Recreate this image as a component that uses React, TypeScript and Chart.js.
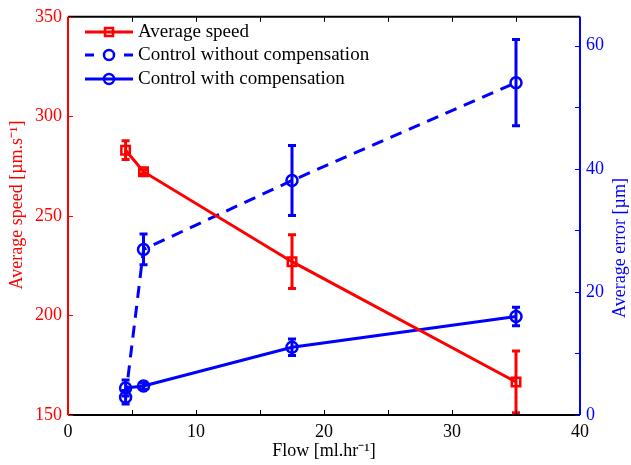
import React, { useEffect, useRef } from "react";
import { Chart, registerables } from "chart.js";

Chart.register(...registerables);

// ---- data ----
const flow = [4.5, 5.9, 17.5, 35];
const avgSpeed = [283, 272.2, 227, 166.6];
const avgSpeedErr = [4.7, 1, 13.5, 15.5];
const errWithout = [2.9, 26.9, 38.1, 54];
const errWithoutErr = [1.1, 2.5, 5.7, 7];
const errWith = [4.4, 4.7, 11, 16];
const errWithErr = [1.3, 0.5, 1.35, 1.5];
const legendLabels = ["Average speed", "Control without compensation", "Control with compensation"];
const xTickValues = [0, 5, 10, 15, 20, 25, 30, 35, 40];
const leftTickValues = [150, 200, 250, 300, 350];
const rightTickValues = [0, 10, 20, 30, 40, 50, 60];
const leftTitle = "Average speed [µm.s⁻¹]";
const rightTitle = "Average error [µm]";
const xTitle = "Flow [ml.hr⁻¹]";

const RED = "#ff0000";
const BLUE = "#0000ff";
const FONT = "'Liberation Serif', 'Times New Roman', serif";

const errorSets = [avgSpeedErr, errWithoutErr, errWithErr];

const customPlugin = {
  id: "custom",
  afterDatasetsDraw(chart: any) {
    const ctx = chart.ctx;
    const a = chart.chartArea;
    ctx.save();
    ctx.beginPath();
    ctx.rect(a.left, a.top, a.right - a.left, a.bottom - a.top);
    ctx.clip();
    chart.data.datasets.forEach((ds: any, i: number) => {
      const ys = chart.scales[ds.yAxisID];
      const xs = chart.scales.x;
      const errs = errorSets[i];
      ctx.strokeStyle = ds.borderColor;
      ctx.lineWidth = 3;
      ctx.setLineDash([]);
      ds.data.forEach((p: any, j: number) => {
        const e = errs[j];
        const px = xs.getPixelForValue(p.x);
        const top = ys.getPixelForValue(p.y + e);
        const bot = ys.getPixelForValue(p.y - e);
        ctx.beginPath();
        ctx.moveTo(px, top);
        ctx.lineTo(px, bot);
        ctx.moveTo(px - 4, top);
        ctx.lineTo(px + 4, top);
        ctx.moveTo(px - 4, bot);
        ctx.lineTo(px + 4, bot);
        ctx.stroke();
      });
    });
    ctx.restore();
  },
  afterDraw(chart: any) {
    const ctx = chart.ctx;
    const a = chart.chartArea;
    const xs = chart.scales.x;
    const yl = chart.scales.yL;
    const yr = chart.scales.yR;
    ctx.save();
    ctx.setLineDash([]);
    ctx.lineWidth = 2;
    // box
    ctx.strokeStyle = "#000";
    ctx.beginPath();
    ctx.moveTo(a.left, a.top);
    ctx.lineTo(a.right, a.top);
    ctx.moveTo(a.left, a.bottom);
    ctx.lineTo(a.right, a.bottom);
    ctx.stroke();
    ctx.lineWidth = 1;
    xTickValues.forEach((v) => {
      const px = Math.round(xs.getPixelForValue(v)) + 0.5;
      ctx.beginPath();
      ctx.moveTo(px, a.bottom);
      ctx.lineTo(px, a.bottom - 5);
      ctx.moveTo(px, a.top);
      ctx.lineTo(px, a.top + 5);
      ctx.stroke();
    });
    ctx.strokeStyle = RED;
    ctx.lineWidth = 2;
    ctx.beginPath();
    ctx.moveTo(a.left, a.top);
    ctx.lineTo(a.left, a.bottom);
    ctx.stroke();
    ctx.lineWidth = 1;
    leftTickValues.forEach((v) => {
      const py = Math.round(yl.getPixelForValue(v)) + 0.5;
      ctx.beginPath();
      ctx.moveTo(a.left, py);
      ctx.lineTo(a.left + 5, py);
      ctx.stroke();
    });
    ctx.strokeStyle = BLUE;
    ctx.lineWidth = 2;
    ctx.beginPath();
    ctx.moveTo(a.right, a.top);
    ctx.lineTo(a.right, a.bottom);
    ctx.stroke();
    ctx.lineWidth = 1;
    rightTickValues.forEach((v) => {
      const py = Math.round(yr.getPixelForValue(v)) + 0.5;
      ctx.beginPath();
      ctx.moveTo(a.right, py);
      ctx.lineTo(a.right - 5, py);
      ctx.stroke();
    });

    // y-axis titles (both read bottom-to-top)
    ctx.font = `18px ${FONT}`;
    ctx.textAlign = "center";
    ctx.textBaseline = "middle";
    ctx.fillStyle = RED;
    ctx.save();
    ctx.translate(17, 205);
    ctx.rotate(-Math.PI / 2);
    ctx.fillText(leftTitle, 0, 0);
    ctx.restore();
    ctx.fillStyle = BLUE;
    ctx.save();
    ctx.translate(620, 248);
    ctx.rotate(-Math.PI / 2);
    ctx.fillText(rightTitle, 0, 0);
    ctx.restore();

    // legend
    const rows = [32, 55, 79];
    const x0 = 85;
    const x1 = 133;
    const xm = (x0 + x1) / 2;
    chart.data.datasets.forEach((ds: any, i: number) => {
      const y = rows[i];
      ctx.strokeStyle = ds.borderColor;
      ctx.lineWidth = 3;
      ctx.setLineDash(i === 1 ? [9, 30] : []);
      ctx.beginPath();
      ctx.moveTo(x0, y);
      ctx.lineTo(x1, y);
      ctx.stroke();
      ctx.setLineDash([]);
      ctx.lineWidth = 2.5;
      ctx.beginPath();
      if (i === 0) {
        ctx.rect(xm - 4, y - 4, 8, 8);
      } else {
        ctx.arc(xm, y, 5, 0, Math.PI * 2);
      }
      ctx.stroke();
      ctx.fillStyle = "#000";
      ctx.font = `19px ${FONT}`;
      ctx.textAlign = "left";
      ctx.textBaseline = "middle";
      ctx.fillText(legendLabels[i], 138, y);
    });
    ctx.restore();
  },
};

export default function App() {
  const ref = useRef<HTMLCanvasElement | null>(null);
  useEffect(() => {
    document.body.style.margin = "0";
    const canvas = ref.current;
    if (!canvas) return;
    const mk = (ys: number[]) => flow.map((x, i) => ({ x, y: ys[i] }));
    const chart = new Chart(canvas, {
      type: "line",
      data: {
        datasets: [
          {
            label: legendLabels[0],
            data: mk(avgSpeed),
            yAxisID: "yL",
            borderColor: RED,
            backgroundColor: "rgba(0,0,0,0)",
            borderWidth: 3,
            pointStyle: "rect",
            pointRadius: 6,
            pointBorderWidth: 2.5,
            pointBackgroundColor: "rgba(0,0,0,0)",
            pointBorderColor: RED,
          },
          {
            label: legendLabels[1],
            data: mk(errWithout),
            yAxisID: "yR",
            borderColor: BLUE,
            backgroundColor: "rgba(0,0,0,0)",
            borderWidth: 3,
            borderDash: [12, 8],
            pointStyle: "circle",
            pointRadius: 5.5,
            pointBorderWidth: 2.5,
            pointBackgroundColor: "rgba(0,0,0,0)",
            pointBorderColor: BLUE,
          },
          {
            label: legendLabels[2],
            data: mk(errWith),
            yAxisID: "yR",
            borderColor: BLUE,
            backgroundColor: "rgba(0,0,0,0)",
            borderWidth: 3,
            pointStyle: "circle",
            pointRadius: 5.5,
            pointBorderWidth: 2.5,
            pointBackgroundColor: "rgba(0,0,0,0)",
            pointBorderColor: BLUE,
          },
        ],
      },
      options: {
        animation: false,
        responsive: false,
        devicePixelRatio: 1,
        layout: { padding: { top: 14, left: 0, right: 0, bottom: 0 } },
        plugins: { legend: { display: false }, tooltip: { enabled: false } },
        scales: {
          x: {
            type: "linear",
            min: 0,
            max: 40,
            grid: { display: false, drawTicks: false },
            border: { display: false },
            ticks: { stepSize: 10, color: "#000", font: { family: FONT, size: 18 }, padding: 6, maxRotation: 0 },
            title: { display: true, text: xTitle, color: "#000", font: { family: FONT, size: 18 }, padding: 3 },
            afterFit: (s: any) => { s.height = 50; },
          },
          yL: {
            type: "linear",
            position: "left",
            min: 150,
            max: 350,
            grid: { display: false, drawTicks: false },
            border: { display: false },
            ticks: { stepSize: 50, color: RED, font: { family: FONT, size: 18 }, padding: 6 },
            afterFit: (s: any) => { s.width = 68; },
          },
          yR: {
            type: "linear",
            position: "right",
            min: 0,
            max: 64.7,
            grid: { display: false, drawTicks: false },
            border: { display: false },
            ticks: {
              stepSize: 20,
              includeBounds: false,
              color: BLUE,
              font: { family: FONT, size: 18 },
              padding: 6,
            },
            afterFit: (s: any) => { s.width = 51; },
          },
        },
      },
      plugins: [customPlugin],
    } as any);
    return () => chart.destroy();
  }, []);
  return (
    <div style={{ width: 631, height: 465 }}>
      <canvas ref={ref} width={631} height={465} style={{ display: "block" }} />
    </div>
  );
}
